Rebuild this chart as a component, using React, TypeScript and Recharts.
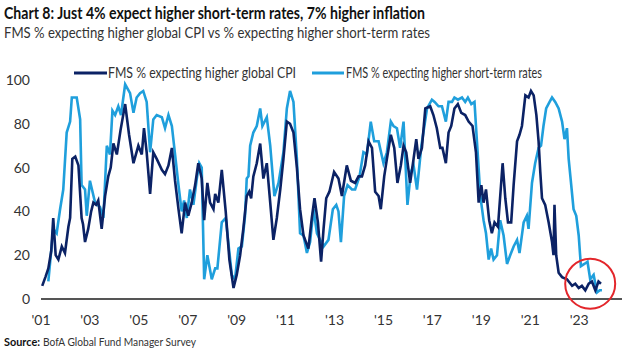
import { LineChart, Line, XAxis, YAxis, ReferenceDot } from 'recharts'

const CPI_DATES = [
  2001.05, 2001.18, 2001.3, 2001.42, 2001.5, 2001.6, 2001.71, 2001.85, 2001.98, 2002.12, 2002.19, 2002.28,
  2002.4, 2002.53, 2002.66, 2002.72, 2002.8, 2002.93, 2003.05, 2003.14, 2003.25, 2003.34, 2003.48, 2003.62,
  2003.75, 2003.85, 2003.96, 2004.1, 2004.25, 2004.44, 2004.6, 2004.78, 2004.98, 2005.12, 2005.21, 2005.32,
  2005.46, 2005.59, 2005.73, 2005.94, 2006.07, 2006.21, 2006.35, 2006.48, 2006.62, 2006.75, 2006.89, 2007.02,
  2007.16, 2007.3, 2007.43, 2007.57, 2007.67, 2007.8, 2007.91, 2008.05, 2008.12, 2008.25, 2008.39, 2008.55,
  2008.7, 2008.87, 2009.0, 2009.14, 2009.27, 2009.41, 2009.51, 2009.59, 2009.68, 2009.82, 2009.96, 2010.09,
  2010.23, 2010.37, 2010.5, 2010.64, 2010.78, 2010.91, 2011.05, 2011.18, 2011.32, 2011.46, 2011.59, 2011.73,
  2011.93, 2012.07, 2012.18, 2012.32, 2012.45, 2012.55, 2012.66, 2012.79, 2012.98, 2013.16, 2013.3, 2013.5,
  2013.67, 2013.84, 2013.98, 2014.12, 2014.25, 2014.39, 2014.53, 2014.66, 2014.8, 2014.89, 2015.03, 2015.14,
  2015.3, 2015.44, 2015.57, 2015.71, 2015.82, 2015.93, 2016.09, 2016.23, 2016.34, 2016.43, 2016.57, 2016.71,
  2016.91, 2017.04, 2017.18, 2017.32, 2017.41, 2017.55, 2017.66, 2017.77, 2017.9, 2018.04, 2018.18, 2018.34,
  2018.48, 2018.64, 2018.78, 2018.89, 2019.0, 2019.09, 2019.19, 2019.32, 2019.43, 2019.54, 2019.68, 2019.87,
  2019.98, 2020.09, 2020.22, 2020.32, 2020.46, 2020.56, 2020.66, 2020.8, 2020.93, 2021.03, 2021.14, 2021.25,
  2021.34, 2021.41, 2021.48, 2021.61, 2021.75, 2021.89, 2021.95, 2021.99, 2022.06, 2022.16, 2022.3, 2022.5,
  2022.71, 2022.84, 2022.98, 2023.11, 2023.25, 2023.39, 2023.52, 2023.66, 2023.79, 2023.89,
]
const CPI_VALUES = [
  6, 10, 14, 22, 37, 20, 18, 24, 21, 33, 37, 64,
  65, 61, 37, 34, 26, 32, 40, 44, 43, 45, 32, 47,
  56, 60, 71, 66, 77, 89, 75, 62, 70, 66, 78, 67,
  48, 67, 64, 59, 57, 61, 69, 54, 41, 30, 44, 38,
  44, 52, 62, 55, 36, 53, 44, 41, 48, 44, 59, 40,
  18, 5, 11, 20, 32, 47, 49, 46, 56, 62, 71, 55,
  62, 44, 27, 37, 50, 64, 81, 80, 76, 60, 41, 29,
  23, 37, 46, 35, 17, 32, 46, 49, 58, 55, 47, 61,
  54, 53, 56, 56, 61, 72, 69, 49, 47, 41, 56, 64,
  75, 69, 53, 61, 70, 67, 53, 64, 73, 64, 69, 87,
  88, 84, 78, 69, 69, 62, 76, 79, 87, 89, 85, 84,
  81, 79, 67, 44, 52, 44, 50, 36, 30, 35, 33, 62,
  46, 35, 35, 52, 72, 75, 79, 93, 92, 95, 93, 84,
  72, 58, 46, 43, 35, 26, 20, 43, 20, 12, 10, 9,
  6, 7, 5, 6, 4, 7, 8, 4, 8, 7,
]

const RATE_DATES = [
  2001.3, 2001.5, 2001.64, 2001.78, 2001.91, 2002.05, 2002.19, 2002.26, 2002.46, 2002.6, 2002.66, 2002.8,
  2002.87, 2003.0, 2003.21, 2003.41, 2003.55, 2003.69, 2003.82, 2003.92, 2004.03, 2004.16, 2004.27, 2004.44,
  2004.64, 2004.78, 2004.91, 2005.05, 2005.18, 2005.32, 2005.46, 2005.59, 2005.73, 2005.94, 2006.07, 2006.21,
  2006.35, 2006.48, 2006.62, 2006.75, 2006.85, 2006.96, 2007.09, 2007.23, 2007.37, 2007.47, 2007.57, 2007.67,
  2007.8, 2007.98, 2008.12, 2008.21, 2008.39, 2008.55, 2008.8, 2008.93, 2009.07, 2009.21, 2009.34, 2009.41,
  2009.48, 2009.55, 2009.68, 2009.82, 2009.96, 2010.05, 2010.23, 2010.37, 2010.54, 2010.71, 2010.91, 2011.05,
  2011.18, 2011.32, 2011.46, 2011.59, 2011.73, 2011.87, 2012.0, 2012.14, 2012.28, 2012.41, 2012.55, 2012.75,
  2012.93, 2013.07, 2013.16, 2013.26, 2013.39, 2013.53, 2013.71, 2013.84, 2014.02, 2014.18, 2014.32, 2014.48,
  2014.62, 2014.8, 2015.0, 2015.14, 2015.3, 2015.41, 2015.55, 2015.68, 2015.82, 2015.98, 2016.12, 2016.23,
  2016.37, 2016.55, 2016.78, 2016.98, 2017.09, 2017.25, 2017.39, 2017.55, 2017.66, 2017.8, 2017.9, 2018.04,
  2018.21, 2018.34, 2018.45, 2018.59, 2018.72, 2018.82, 2018.96, 2019.09, 2019.19, 2019.3, 2019.4, 2019.5,
  2019.64, 2019.77, 2019.91, 2020.05, 2020.18, 2020.32, 2020.46, 2020.56, 2020.73, 2020.86, 2020.93, 2021.07,
  2021.2, 2021.34, 2021.44, 2021.54, 2021.65, 2021.79, 2021.89, 2022.02, 2022.16, 2022.3, 2022.4, 2022.5,
  2022.57, 2022.64, 2022.77, 2022.88, 2022.98, 2023.07, 2023.21, 2023.34, 2023.45, 2023.59, 2023.73, 2023.84,
  2023.93,
]
const RATE_VALUES = [
  8, 32, 30, 41, 50, 76, 81, 92, 92, 82, 52, 50,
  38, 54, 44, 42, 37, 70, 66, 86, 84, 88, 84, 98,
  94, 85, 92, 94, 95, 90, 67, 82, 84, 83, 78, 84,
  79, 66, 52, 40, 45, 37, 50, 43, 55, 62, 60, 9,
  20, 9, 14, 14, 35, 37, 11, 9, 23, 24, 38, 55,
  56, 70, 76, 79, 87, 79, 83, 70, 47, 53, 67, 87,
  95, 90, 64, 30, 29, 21, 26, 41, 30, 27, 24, 27,
  41, 43, 40, 26, 47, 52, 50, 50, 56, 67, 66, 81,
  72, 72, 62, 67, 81, 79, 78, 69, 81, 43, 58, 61,
  50, 70, 87, 91, 90, 88, 88, 81, 90, 90, 92, 91,
  92, 90, 92, 89, 90, 72, 47, 36, 30, 18, 23, 18,
  20, 36, 29, 16, 20, 24, 27, 21, 35, 38, 32, 53,
  62, 69, 70, 79, 87, 90, 92, 90, 87, 81, 73, 78,
  64, 56, 41, 38, 29, 15, 16, 17, 9, 11, 3, 4,
  4,
]

const YEAR_TICKS = [2001, 2003, 2005, 2007, 2009, 2011, 2013, 2015, 2017, 2019, 2021, 2023]
const VALUE_TICKS = [0, 20, 40, 60, 80, 100]

const DARK = '#0b2265'
const LIGHT = '#1f9fdc'
const FONT = 'Lato, "Open Sans", sans-serif'

const cpiData = CPI_DATES.map((t, i) => ({ t, v: CPI_VALUES[i] }))
const rateData = RATE_DATES.map((t, i) => ({ t, v: RATE_VALUES[i] }))

// text blocks squeezed to the widths of the original condensed font
function Header() {
  return (
    <svg width={628} height={351} style={{ position: 'absolute', left: 0, top: 0, pointerEvents: 'none' }}>
      <g fontFamily={FONT}>
        <text x={4} y={19} fontSize={17} fontWeight={700} fill="#111" textLength={421} lengthAdjust="spacingAndGlyphs">
          Chart 8: Just 4% expect higher short-term rates, 7% higher inflation
        </text>
        <text x={4} y={38} fontSize={15.5} fill="#333" textLength={426} lengthAdjust="spacingAndGlyphs">
          FMS % expecting higher global CPI vs % expecting higher short-term rates
        </text>

        <line x1={74} x2={107} y1={73} y2={73} stroke={DARK} strokeWidth={3} />
        <text x={108} y={78} fontSize={15} fill="#333" textLength={188} lengthAdjust="spacingAndGlyphs">
          FMS % expecting higher global CPI
        </text>
        <line x1={312} x2={344} y1={73} y2={73} stroke={LIGHT} strokeWidth={3} />
        <text x={346} y={78} fontSize={15} fill="#333" textLength={196} lengthAdjust="spacingAndGlyphs">
          FMS % expecting higher short-term rates
        </text>

        <text x={4} y={346} fontSize={11.5} fontWeight={700} fill="#111" textLength={36} lengthAdjust="spacingAndGlyphs">
          Source:
        </text>
        <text x={43} y={346} fontSize={11.5} fill="#333" textLength={153} lengthAdjust="spacingAndGlyphs">
          BofA Global Fund Manager Survey
        </text>
      </g>
    </svg>
  )
}

export default function App() {
  return (
    <div style={{ position: 'absolute', left: 0, top: 0, width: 628, height: 351, background: '#fff', fontFamily: FONT }}>
      <div style={{ position: 'absolute', left: 0, top: 0 }}>
        <LineChart width={628} height={351} margin={{ top: 80, right: 6, bottom: 32, left: 0 }}>
          <XAxis
            dataKey="t"
            type="number"
            domain={[2001, 2024.75]}
            ticks={YEAR_TICKS}
            allowDataOverflow
            tickFormatter={(v) => "'" + String(v).slice(2)}
            tickLine={false}
            tickSize={0}
            tickMargin={16}
            height={20}
            axisLine={{ stroke: '#555', strokeWidth: 2 }}
            tick={{ fill: '#333', fontSize: 14, fontFamily: FONT }}
          />
          <YAxis
            type="number"
            domain={[0, 100]}
            ticks={VALUE_TICKS}
            width={41}
            axisLine={false}
            tickLine={false}
            tickSize={0}
            tickMargin={11}
            tick={{ fill: '#333', fontSize: 14, fontFamily: FONT }}
          />
          <Line data={rateData} dataKey="v" name="FMS % expecting higher short-term rates" stroke={LIGHT} strokeWidth={2.6} dot={false} isAnimationActive={false} />
          <Line data={cpiData} dataKey="v" name="FMS % expecting higher global CPI" stroke={DARK} strokeWidth={2.6} dot={false} isAnimationActive={false} />
          <ReferenceDot x={2023.45} y={7} r={25} fill="none" stroke="#e3262b" strokeWidth={2} />
        </LineChart>
      </div>
      <Header />
    </div>
  )
}
